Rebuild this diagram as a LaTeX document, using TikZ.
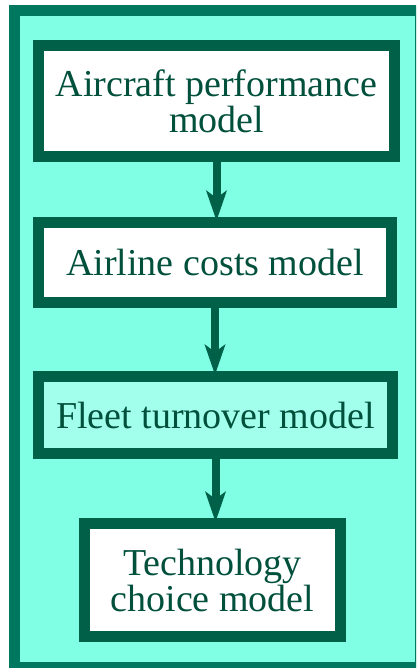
\documentclass[tikz,border=0pt]{standalone}
\usepackage{fontspec}
\setmainfont{Liberation Serif}
\usetikzlibrary{arrows.meta, positioning}

\definecolor{aqua}{RGB}{128,255,228}
\definecolor{paleaqua}{RGB}{162,255,236}
\definecolor{framegreen}{RGB}{0,120,95}
\definecolor{boxgreen}{RGB}{0,96,72}
\definecolor{textgreen}{RGB}{0,80,60}

\tikzset{
  model/.style={draw=boxgreen, line width=11pt, fill=white, text=textgreen,
    align=center, inner sep=0pt, font=\fontsize{38}{36}\selectfont},
  flow/.style={-{Stealth[length=30pt, width=20pt, inset=7pt]}, line width=8pt,
    draw=boxgreen, shorten >=-4pt}
}

\begin{document}
\begin{tikzpicture}[x=1pt, y=-1pt]
  \useasboundingbox (0,0) rectangle (416,668);
  \clip (0,0) rectangle (416,668);
  \draw [framegreen, line width=11pt, fill=aqua] (14.5,10.5) rectangle (420.5,667.5);

  \node (aircraft) [model, minimum width=356pt, minimum height=111pt] at (216.5,101) {Aircraft performance\\model};
  \node (airline) [model, minimum width=353pt, minimum height=80pt] at (215,262.5) {Airline costs model};
  \node (fleet) [model, fill=paleaqua, minimum width=354pt, minimum height=77pt] at (215.5,415) {Fleet turnover model};
  \node (techno) [model, minimum width=256pt, minimum height=113pt] at (212.5,580) {Technology\\choice model};

  \draw [flow] (aircraft.south) -- (aircraft.south |- airline.north);
  \draw [flow] (airline.south) -- (airline.south |- fleet.north);
  \draw [flow] (fleet.south) -- (fleet.south |- techno.north);
\end{tikzpicture}
\end{document}
